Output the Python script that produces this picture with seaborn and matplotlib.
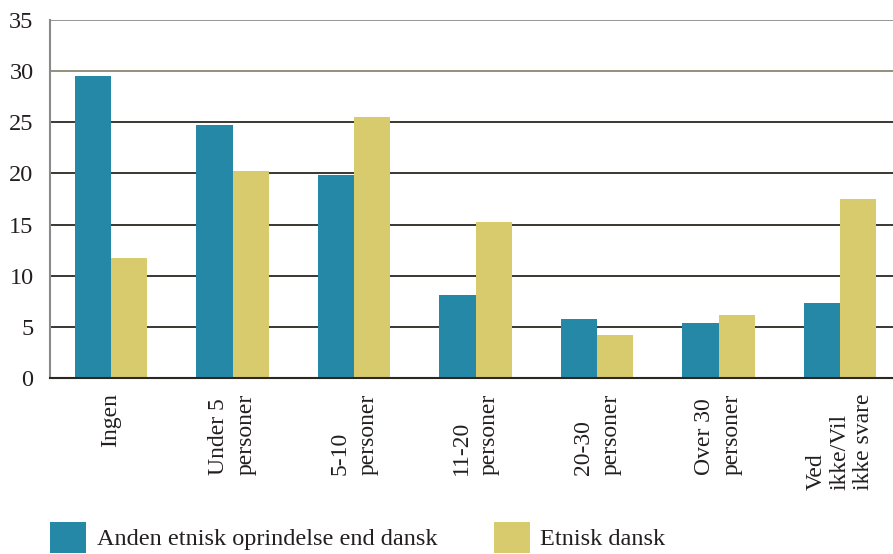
import matplotlib
matplotlib.use("Agg")
import matplotlib.pyplot as plt
import seaborn as sns
import pandas as pd

categories = ["Ingen", "Under 5\npersoner", "5-10\npersoner", "11-20\npersoner",
              "20-30\npersoner", "Over 30\npersoner", "Ved\nikke/Vil\nikke svare"]
series_names = ["Anden etnisk oprindelse end dansk", "Etnisk dansk"]
anden = [29.5, 24.7, 19.8, 8.1, 5.8, 5.4, 7.3]
etnisk = [11.7, 20.2, 25.5, 15.3, 4.2, 6.2, 17.5]
yticks = [0, 5, 10, 15, 20, 25, 30, 35]

df = pd.DataFrame({
    "kategori": categories * 2,
    "gruppe": [series_names[0]] * len(categories) + [series_names[1]] * len(categories),
    "pct": anden + etnisk,
})

plt.rcParams["font.family"] = ["Liberation Serif", "DejaVu Serif"]
text_color = "#231f20"

fig = plt.figure(figsize=(8.93, 5.54), dpi=100)
W, H = 893, 554
ax = fig.add_axes([50.25 / W, 1 - 378 / H, (900.75 - 50.25) / W, (378 - 20) / H])

palette = {series_names[0]: "#2688a7", series_names[1]: "#d8cb6e"}
sns.barplot(data=df, x="kategori", y="pct", hue="gruppe", palette=palette,
            width=0.6, saturation=1, ax=ax, order=categories,
            hue_order=series_names)

handles, labels = ax.get_legend_handles_labels()
if ax.get_legend() is not None:
    ax.get_legend().remove()

ax.set_xlim(-0.5, 6.5)
ax.set_ylim(0, 35)
ax.set_yticks(yticks)
ax.set_xlabel("")
ax.set_ylabel("")
ax.set_axisbelow(True)
ax.yaxis.grid(True, color="#2b2822", linewidth=1.3)
ax.xaxis.grid(False)
gl = ax.get_ygridlines()
gl[-1].set_color("#8e8e8e")
gl[-2].set_color("#8a8772")

for s in ["top", "right"]:
    ax.spines[s].set_visible(False)
ax.spines["left"].set_color("#8a8a8a")
ax.spines["left"].set_linewidth(1.5)
ax.spines["bottom"].set_color("#2b2822")
ax.spines["bottom"].set_linewidth(1.5)

ax.tick_params(axis="y", length=0, pad=12, labelsize=17.5, labelcolor=text_color)
ax.tick_params(axis="x", length=0, pad=11, labelsize=17, labelcolor=text_color)
for lbl in ax.get_xticklabels():
    lbl.set_rotation(90)
    lbl.set_ha("center")
    lbl.set_va("top")
    lbl.set_multialignment("left")
    n_lines = lbl.get_text().count("\n") + 1
    lbl.set_linespacing(1.15 if n_lines > 2 else 1.42)

fs = 17.5
fs_px = fs * 100 / 72
fig.legend(handles, labels, ncol=2, loc="upper left",
           bbox_to_anchor=(50 / W, 1 - 522 / H), frameon=False, fontsize=fs,
           handlelength=36 / fs_px, handleheight=38 / fs_px,
           handletextpad=11 / fs_px, columnspacing=56 / fs_px,
           borderpad=0, borderaxespad=0, labelcolor=text_color)

fig.savefig("out.png", dpi=100)
